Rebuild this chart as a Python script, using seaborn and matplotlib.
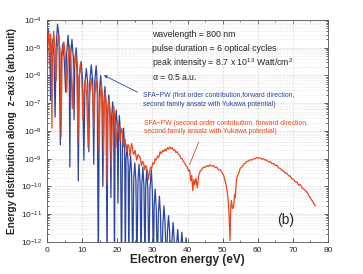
import numpy as np
import pandas as pd
import matplotlib
matplotlib.use("Agg")
import matplotlib.pyplot as plt
import seaborn as sns

# first order (blue) : electron energy (eV) and log10 of the distribution
blue_e = [0.0, 0.4, 0.8, 1.0, 1.2, 1.6, 2.0, 2.3, 2.6, 3.0, 3.4, 3.8, 4.1, 4.5, 4.9, 5.3, 5.6, 6.0,
          6.3, 6.5, 6.7, 7.1, 7.5, 7.7, 7.9, 8.3, 8.6, 8.9, 9.2, 9.7, 10.1, 10.5, 10.8, 11.2, 11.6,
          11.9, 12.2, 12.6, 13.0, 13.3, 13.6, 14.0, 14.3, 14.6, 14.9, 15.3, 15.6, 15.9, 16.2, 16.5,
          16.8, 17.1, 17.3, 17.6, 17.9, 18.2, 18.4, 18.7, 19.0, 19.2, 19.4, 19.7, 20.0, 20.2, 20.4,
          20.6, 20.9, 21.2, 21.5, 21.8, 22.1, 22.3, 22.5, 22.8, 23.1, 23.3, 23.5, 23.8, 24.1, 24.4,
          24.7, 25.0, 25.3, 25.6, 25.9, 26.2, 26.5, 26.8, 27.0, 27.3, 27.6, 27.9, 28.1, 28.4, 28.7,
          29.0, 29.3, 29.7, 30.0, 30.3, 30.5, 30.8, 31.1, 31.4, 31.7, 32.0, 32.3, 32.6, 33.0, 33.3,
          33.6, 34.0, 34.3, 34.6, 34.9, 35.2, 35.6, 35.9, 36.2, 36.5, 36.9, 37.2, 37.5, 37.8, 38.1,
          38.4, 38.7, 39.0, 39.3, 39.6, 39.9, 40.2]
blue_log = [-5.2, -4.35, -5.0, -6.9, -5.1, -4.7, -5.3, -7.5, -5.0, -4.15, -4.6, -8.5, -5.3, -4.85,
            -5.4, -6.6, -5.2, -4.55, -5.2, -9.3, -5.3, -4.7, -5.4, -7.6, -5.6, -5.0, -5.6, -9.8,
            -6.0, -5.5, -6.1, -9.05, -6.3, -5.75, -6.3, -8.75, -6.2, -5.62, -6.2, -9.2, -6.2, -5.65,
            -6.3, -13, -6.6, -6.0, -6.6, -10.0, -7.0, -6.4, -7.0, -13, -7.3, -6.7, -7.3, -10.4,
            -7.5, -6.95, -7.5, -13, -7.8, -7.25, -7.9, -10.6, -8.0, -7.45, -8.1, -13, -8.5, -7.9,
            -8.6, -13, -9.0, -8.5, -9.2, -13, -9.5, -8.9, -9.6, -13, -9.7, -9.15, -9.8, -13, -9.8,
            -9.2, -9.9, -13, -9.9, -9.3, -10.0, -13, -10.0, -9.4, -10.1, -13, -10.1, -9.4, -10.2,
            -13, -10.7, -10.1, -10.8, -13, -11.0, -10.35, -11.0, -13, -11.3, -10.7, -11.3, -13,
            -11.6, -11.05, -11.6, -13, -11.9, -11.3, -11.9, -13, -12.1, -11.55, -12.1, -13, -12.2,
            -11.65, -12.2, -13, -12.3, -11.85, -12.4, -13]

# second order (red)
red_e = [0.0, 0.3, 0.6, 0.7, 0.8, 1.0, 1.2, 1.4, 1.6, 1.9, 2.2, 2.6, 2.9, 3.3, 3.7, 4.0, 4.3, 4.8,
         5.2, 5.6, 6.0, 6.4, 6.8, 7.2, 7.6, 8.1, 8.5, 8.8, 9.1, 9.5, 9.9, 10.2, 10.5, 10.9, 11.3,
         11.7, 12.1, 12.6, 13.0, 13.3, 13.6, 14.0, 14.4, 14.8, 15.1, 15.5, 15.8, 16.1, 16.3, 16.6,
         16.9, 17.1, 17.3, 17.6, 18.0, 18.3, 18.6, 19.0, 19.3, 19.6, 19.9, 20.3, 20.6, 20.8, 21.0,
         21.3, 21.6, 21.8, 22.0, 22.2, 22.5, 22.7, 22.9, 23.2, 23.5, 23.7, 23.9, 24.1, 24.4, 24.6,
         24.8, 25.1, 25.5, 25.9, 26.5, 26.9, 27.2, 27.5, 27.8, 28.1, 28.4, 28.7, 28.9, 29.2, 29.5,
         29.8, 30.1, 30.4, 30.8, 31.1, 31.5, 31.8, 32.2, 32.5, 32.9, 33.2, 33.6, 33.9, 34.3, 34.6,
         35.0, 35.3, 35.7, 36.0, 36.4, 36.7, 37.1, 37.4, 37.8, 38.1, 38.5, 38.8, 39.2, 39.5, 39.9,
         40.3, 40.6, 40.9, 41.2, 41.5, 41.8, 42.1, 42.4, 42.8, 43.2, 43.6, 44.0, 44.5, 45.0, 45.5,
         46.0, 46.4, 46.9, 47.4, 47.9, 48.3, 48.8, 49.3, 49.8, 50.3, 50.7, 51.0, 51.3, 51.6, 51.8,
         52.1, 52.3, 52.5, 52.8, 53.1, 53.4, 53.6, 53.8, 54.0, 54.5, 55.0, 55.5, 56.0, 56.5, 56.9,
         57.4, 57.9, 58.3, 58.8, 59.3, 59.7, 60.2, 60.7, 61.2, 61.6, 62.1, 62.6, 63.1, 63.6, 64.0,
         64.5, 65.0, 65.4, 65.9, 66.4, 66.9, 67.3, 67.8, 68.3, 68.8, 69.2, 69.7, 70.2, 70.7, 71.1,
         71.6, 72.1, 72.6, 73.0, 73.5, 74.0, 74.5, 74.9, 75.4, 75.9, 76.4]
red_log = [-4.8, -4.45, -5.0, -5.6, -5.0, -4.5, -5.0, -7.9, -5.0, -4.4, -4.9, -6.2, -5.0, -4.55,
           -5.1, -8.2, -5.3, -4.78, -5.3, -6.6, -5.4, -4.9, -5.4, -7.2, -5.7, -5.2, -5.8, -8.4,
           -6.1, -5.6, -6.1, -7.6, -6.6, -6.15, -6.7, -8.6, -6.7, -6.1, -6.6, -7.9, -6.7, -6.15,
           -6.7, -8.7, -6.8, -6.3, -6.8, -8.9, -7.1, -6.6, -7.2, -9.95, -7.4, -6.85, -7.4, -9.3,
           -7.6, -7.1, -7.6, -8.6, -8.0, -7.65, -8.1, -8.35, -8.1, -7.9, -8.3, -8.55, -8.4, -8.3,
           -8.6, -8.75, -8.6, -8.5, -8.7, -8.9, -8.6, -8.45, -8.7, -8.85, -8.8, -8.7, -9.05, -8.85,
           -8.95, -9.25, -9.1, -9.15, -9.4, -9.25, -9.3, -9.55, -9.75, -9.45, -9.3, -9.35, -9.15,
           -9.2, -9.0, -9.05, -8.9, -8.95, -8.75, -8.82, -8.7, -8.75, -8.65, -8.72, -8.6, -8.66,
           -8.58, -8.65, -8.6, -8.7, -8.68, -8.78, -8.75, -8.85, -8.88, -8.98, -9.0, -9.1, -9.15,
           -9.25, -9.3, -9.45, -9.4, -9.8, -9.6, -10.15, -9.75, -9.95, -9.7, -10.05, -9.6, -9.45,
           -9.4, -9.3, -9.32, -9.25, -9.28, -9.22, -9.27, -9.25, -9.32, -9.3, -9.4, -9.4, -9.5,
           -9.6, -9.8, -9.95, -10.2, -10.5, -10.9, -11.95, -10.8, -10.5, -10.8, -10.75, -10.3,
           -10.4, -10.0, -9.7, -9.55, -9.35, -9.3, -9.2, -9.15, -9.1, -9.08, -9.03, -9.05, -9.0,
           -9.0, -8.96, -8.98, -8.97, -9.02, -9.0, -9.05, -9.05, -9.12, -9.1, -9.18, -9.17, -9.25,
           -9.23, -9.33, -9.35, -9.42, -9.43, -9.52, -9.52, -9.62, -9.62, -9.72, -9.74, -9.84,
           -9.83, -9.95, -9.93, -10.05, -10.08, -10.15, -10.2, -10.33, -10.4, -10.5, -10.6, -10.7]

y_exps = list(range(-12, -3))

params = ["wavelength = 800 nm",
          "pulse duration = 6 optical cycles",
          "peak intensity = 8.7 x 10$^{13}$ Watt/cm$^{2}$",
          "$\\alpha$ = 0.5 a.u."]
blue_label = "SFA\u2212PW (first order contribution,forward direction,\nsecond family ansatz with Yukawa potential)"
red_label = "SFA\u2212PW (second order contribution, forward direction,\nsecond family ansatz with Yukawa potential)"

blue_c = "#2b45a0"
red_c = "#e8481e"

sns.set_style("ticks")
plt.rcParams["font.family"] = ["Liberation Sans", "DejaVu Sans"]
plt.rcParams["mathtext.default"] = "regular"

df_b = pd.DataFrame({"e": blue_e, "v": 10.0 ** np.array(blue_log)})
df_r = pd.DataFrame({"e": red_e, "v": 10.0 ** np.array(red_log)})

fig = plt.figure(figsize=(3.63, 2.74), dpi=100)
ax = fig.add_axes([0.1295, 0.117, 0.7741, 0.81])

sns.lineplot(data=df_b, x="e", y="v", ax=ax, color=blue_c, lw=0.9, sort=False, estimator=None)
sns.lineplot(data=df_r, x="e", y="v", ax=ax, color=red_c, lw=0.9, sort=False, estimator=None)

ax.set_yscale("log")
ax.set_xlim(0, 80)
ax.set_ylim(1e-12, 1e-4)
ax.set_xticks(range(0, 81, 10))
ax.set_yticks([10.0 ** k for k in y_exps])
ax.set_yticklabels(["$10^{%d}$" % k for k in y_exps])
ax.set_yticks([m * 10.0 ** k for k in y_exps[:-1] for m in range(2, 10)], minor=True)
ax.set_yticklabels([], minor=True)
ax.xaxis.set_minor_locator(matplotlib.ticker.FixedLocator(range(5, 80, 10)))
ax.grid(True, which="major", color="#d8d8d8", lw=0.5, ls="--")
ax.grid(True, which="minor", axis="y", color="#e6e6e6", lw=0.4, ls="--")
ax.tick_params(which="both", direction="in", top=True, right=True, labelsize=6, length=3, width=0.5)
ax.tick_params(which="minor", length=1.5)
for s in ax.spines.values():
    s.set_linewidth(0.6)
    s.set_color("#555555")

ax.set_xlabel("Electron energy (eV)", fontsize=8.5, fontweight="bold", labelpad=0)
ax.set_ylabel("Energy distribution along  z\u2212axis (arb.unit)", fontsize=7.3, fontweight="bold", labelpad=3)

for i, t in enumerate(params):
    ax.text(0.373, 0.935 - i * 0.064, t, transform=ax.transAxes, fontsize=6.3, va="center")

ax.text(0.34, 0.64, blue_label, transform=ax.transAxes, fontsize=4.9, color=blue_c,
        va="center", linespacing=1.25)
ax.annotate("", xy=(15.5, 10 ** -5.95), xytext=(26.5, 10 ** -6.65),
            arrowprops=dict(arrowstyle="-|>", color=blue_c, lw=0.6, mutation_scale=4))
ax.text(0.346, 0.515, red_label, transform=ax.transAxes, fontsize=4.9, color=red_c,
        va="center", linespacing=1.25)
ax.annotate("", xy=(40.3, 10 ** -9.3), xytext=(43.5, 10 ** -8.3),
            arrowprops=dict(arrowstyle="-", color=red_c, lw=0.6))

ax.text(0.85, 0.1, "(b)", transform=ax.transAxes, fontsize=10, ha="center", va="center")

fig.savefig("out.png", dpi=100)
